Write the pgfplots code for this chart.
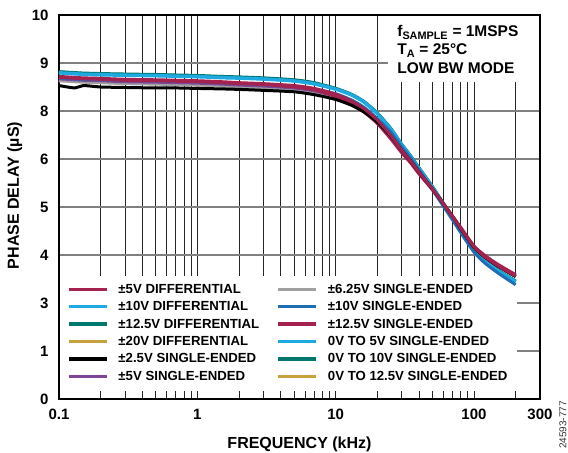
\documentclass[border=0pt]{standalone}
\usepackage{pgfplots}
\pgfplotsset{compat=1.18}
\usepackage{pgfplotstable}
\usepackage{fontspec}
\setmainfont{Liberation Sans}
\definecolor{crim}{HTML}{A3224F}
\definecolor{cyanl}{HTML}{1EAAE1}
\definecolor{tealc}{HTML}{00786E}
\definecolor{goldc}{HTML}{C8A03C}
\definecolor{purp}{HTML}{7D4696}
\definecolor{grayc}{HTML}{A0A0A0}
\definecolor{blued}{HTML}{1E6EB4}

% y values are in plotted grid units (grid rows labelled 0,1,3,4,5,6,8,9,10)
\pgfplotstableread{
x    R    K    C    B    R2   T    G1   P    Y    C2   T2   G2
0.1  6.72 6.53 6.80 6.69 6.70 6.82 6.65 6.67 6.63 6.79 6.81 6.64
0.13 6.70 6.48 6.78 6.67 6.68 6.80 6.63 6.65 6.61 6.77 6.79 6.62
0.15 6.69 6.53 6.77 6.66 6.67 6.79 6.62 6.64 6.60 6.76 6.78 6.61
0.2  6.68 6.50 6.76 6.65 6.66 6.78 6.61 6.63 6.59 6.75 6.77 6.60
0.3  6.66 6.49 6.75 6.64 6.64 6.77 6.59 6.61 6.57 6.74 6.76 6.58
0.5  6.65 6.48 6.74 6.63 6.63 6.76 6.58 6.60 6.56 6.73 6.75 6.57
0.7  6.64 6.48 6.73 6.62 6.62 6.75 6.57 6.59 6.55 6.72 6.74 6.56
1    6.63 6.47 6.72 6.61 6.61 6.74 6.56 6.58 6.54 6.71 6.73 6.55
1.5  6.61 6.46 6.70 6.59 6.59 6.72 6.54 6.56 6.52 6.69 6.71 6.53
2    6.59 6.45 6.69 6.57 6.57 6.71 6.52 6.54 6.50 6.68 6.70 6.51
3    6.57 6.43 6.67 6.55 6.55 6.69 6.50 6.52 6.48 6.66 6.68 6.49
5    6.53 6.40 6.63 6.51 6.50 6.65 6.46 6.48 6.44 6.62 6.64 6.45
7    6.47 6.34 6.57 6.46 6.44 6.59 6.41 6.42 6.38 6.56 6.58 6.39
10   6.35 6.24 6.46 6.36 6.30 6.47 6.31 6.31 6.28 6.45 6.47 6.29
13   6.21 6.12 6.34 6.23 6.14 6.35 6.18 6.18 6.16 6.33 6.34 6.17
16   6.05 5.98 6.19 6.08 5.98 6.20 6.02 6.02 6.00 6.18 6.19 6.01
20   5.81 5.77 5.95 5.84 5.74 5.96 5.79 5.79 5.78 5.94 5.95 5.78
25   5.49 5.48 5.63 5.56 5.42 5.64 5.48 5.48 5.48 5.62 5.63 5.48
30   5.18 5.18 5.30 5.25 5.13 5.31 5.18 5.18 5.18 5.29 5.30 5.18
35   4.95 4.95 5.05 5.01 4.91 5.06 4.95 4.95 4.95 5.04 5.05 4.95
40   4.73 4.73 4.81 4.77 4.69 4.82 4.73 4.73 4.73 4.80 4.81 4.73
50   4.38 4.38 4.42 4.36 4.36 4.43 4.38 4.38 4.38 4.41 4.42 4.38
60   4.07 4.07 4.07 4.02 4.07 4.08 4.07 4.07 4.07 4.06 4.07 4.07
70   3.80 3.80 3.78 3.73 3.81 3.79 3.80 3.80 3.80 3.77 3.78 3.80
80   3.56 3.55 3.53 3.47 3.58 3.54 3.56 3.56 3.56 3.52 3.53 3.56
100  3.17 3.16 3.11 3.06 3.19 3.12 3.17 3.17 3.17 3.10 3.11 3.17
120  2.96 2.95 2.88 2.83 2.99 2.89 2.96 2.96 2.96 2.87 2.88 2.96
150  2.77 2.76 2.67 2.62 2.80 2.68 2.77 2.77 2.77 2.66 2.67 2.77
200  2.56 2.55 2.45 2.38 2.59 2.46 2.56 2.56 2.56 2.44 2.45 2.56
}\data

\begin{document}
\begin{tikzpicture}
\begin{axis}[
  scale only axis, width=481pt, height=384pt,
  xmode=log, log basis x=10, xmin=0.1, xmax=300, ymin=0, ymax=8,
  xtick={0.1,1,10,100,300}, xticklabels={0.1,1,10,100,300},
  minor xtick={0.2,0.3,0.4,0.5,0.6,0.7,0.8,0.9,2,3,4,5,6,7,8,9,20,30,40,50,60,70,80,90,200},
  ytick={0,1,2,3,4,5,6,7,8}, yticklabels={0,1,3,4,5,6,8,9,10},
  xmajorgrids, xminorgrids, ymajorgrids,
  major x grid style={black!85, line width=0.8pt},
  minor x grid style={black!85, line width=0.8pt},
  major y grid style={black!50, line width=1.2pt},
  major tick length=0pt, minor tick length=0pt,
  axis line style={black, line width=1.1pt},
  tick label style={font=\fontsize{15}{18}\selectfont\bfseries, /pgf/number format/assume math mode=true},
  xticklabel style={yshift=-7pt},
  yticklabel style={xshift=-7pt},
  xlabel={FREQUENCY (kHz)}, ylabel={PHASE DELAY (µS)},
  label style={font=\fontsize{16}{19}\selectfont\bfseries},
  xlabel style={at={(axis description cs:0.5,0)}, anchor=north, inner sep=0pt, yshift=-38pt},
  ylabel style={at={(axis description cs:-0.092,0.53)}, anchor=center, inner sep=0pt},
  legend columns=2, legend cell align=left,
  legend style={at={(rel axis cs:0.0166,0.2995)}, anchor=north west, draw=none, fill=none,
    inner sep=0pt, outer sep=0pt, column sep=10pt, row sep={17.4pt,between origins},
    font=\fontsize{13.2}{16}\selectfont\bfseries, nodes={inner sep=0pt}},
  legend image code/.code={\draw[#1, line width=3.5pt] (0pt,0pt) -- (38pt,0pt);},
  every axis plot/.append style={line width=3pt, smooth, tension=0.4},
]
\fill[white] (rel axis cs:0.003,0.021) rectangle (rel axis cs:0.952,0.320);
\fill[white] (rel axis cs:0.684,0.826) rectangle (rel axis cs:0.997,0.997);

\addplot[goldc, forget plot] table[x=x, y=G2] {\data};
\addplot[goldc, forget plot] table[x=x, y=G1] {\data};
\addplot[tealc, forget plot] table[x=x, y=T2] {\data};
\addplot[tealc, forget plot] table[x=x, y=T] {\data};
\addplot[grayc, forget plot] table[x=x, y=Y] {\data};
\addplot[purp, forget plot] table[x=x, y=P] {\data};
\addplot[cyanl, forget plot] table[x=x, y=C2] {\data};
\addplot[cyanl, forget plot] table[x=x, y=C] {\data};
\addplot[blued, forget plot] table[x=x, y=B] {\data};
\addplot[crim, forget plot] table[x=x, y=R2] {\data};
\addplot[black, forget plot] table[x=x, y=K] {\data};
\addplot[crim, forget plot] table[x=x, y=R] {\data};

\addlegendimage{crim}\addlegendentry{\makebox[148pt][l]{±5V DIFFERENTIAL}}
\addlegendimage{grayc}\addlegendentry{±6.25V SINGLE-ENDED}
\addlegendimage{cyanl}\addlegendentry{\makebox[148pt][l]{±10V DIFFERENTIAL}}
\addlegendimage{blued}\addlegendentry{±10V SINGLE-ENDED}
\addlegendimage{tealc}\addlegendentry{\makebox[148pt][l]{±12.5V DIFFERENTIAL}}
\addlegendimage{crim}\addlegendentry{±12.5V SINGLE-ENDED}
\addlegendimage{goldc}\addlegendentry{\makebox[148pt][l]{±20V DIFFERENTIAL}}
\addlegendimage{cyanl}\addlegendentry{0V TO 5V SINGLE-ENDED}
\addlegendimage{black}\addlegendentry{\makebox[148pt][l]{±2.5V SINGLE-ENDED}}
\addlegendimage{tealc}\addlegendentry{0V TO 10V SINGLE-ENDED}
\addlegendimage{purp}\addlegendentry{\makebox[148pt][l]{±5V SINGLE-ENDED}}
\addlegendimage{goldc}\addlegendentry{0V TO 12.5V SINGLE-ENDED}

\node[anchor=north west, align=left, inner sep=0pt, font=\fontsize{15.5}{18.5}\selectfont\bfseries]
  at (rel axis cs:0.703,0.974) {f\textsubscript{SAMPLE} = 1MSPS\\T\textsubscript{A} = 25°C\\LOW BW MODE};
\end{axis}
\node[rotate=90, inner sep=0pt, font=\fontsize{10}{12}\selectfont, text=black!80]
  at ([shift={(23pt,-26pt)}]current axis.south east) {24593-777};
\path ([shift={(-59pt,-54pt)}]current axis.south west) rectangle ([shift={(28pt,15pt)}]current axis.north east);
\end{tikzpicture}
\end{document}
